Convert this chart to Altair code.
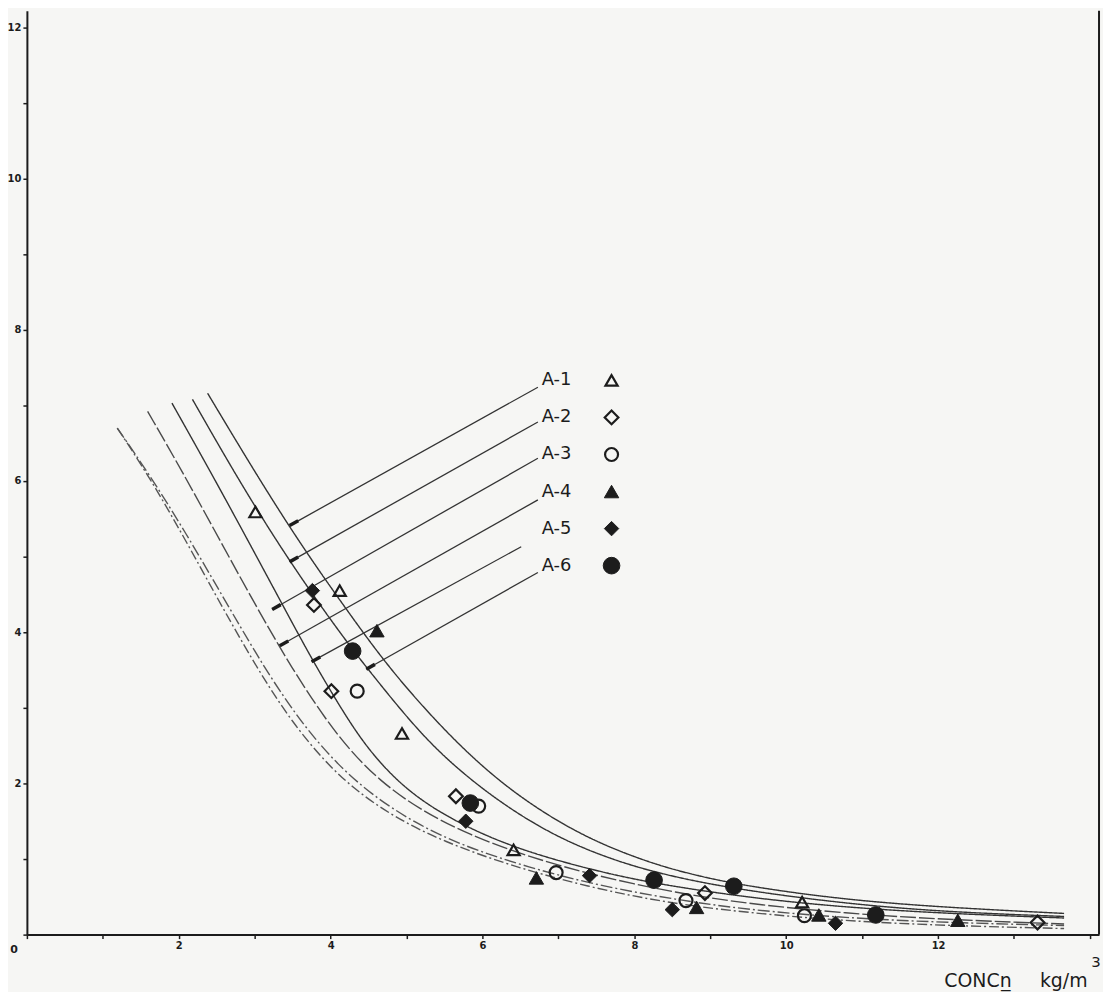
import altair as alt
import pandas as pd

# ---------------- data ----------------
SERIES = ["A-1", "A-2", "A-3", "A-4", "A-5", "A-6"]

A1_X = [3.01, 4.12, 4.94, 6.41, 10.21]
A1_Y = [5.59, 4.55, 2.66, 1.12, 0.43]
A2_X = [3.78, 4.01, 5.65, 8.93, 13.31]
A2_Y = [4.36, 3.22, 1.83, 0.55, 0.16]
A3_X = [4.35, 5.95, 6.97, 8.68, 10.24]
A3_Y = [3.22, 1.70, 0.82, 0.45, 0.25]
A4_X = [4.61, 6.71, 8.82, 10.43, 12.26]
A4_Y = [4.02, 0.75, 0.36, 0.26, 0.19]
A5_X = [3.76, 5.78, 7.41, 8.50, 10.65]
A5_Y = [4.55, 1.50, 0.78, 0.33, 0.15]
A6_X = [4.29, 5.84, 8.26, 9.31, 11.18]
A6_Y = [3.75, 1.74, 0.72, 0.64, 0.26]

# fitted curves
C1_X = [2.38, 2.97, 3.59, 4.25, 4.81, 5.56, 6.21, 6.86, 7.52, 8.26, 8.82, 9.48, 10.78, 12.09, 13.66]
C1_Y = [7.16, 6.17, 5.18, 4.24, 3.47, 2.63, 2.03, 1.57, 1.21, 0.93, 0.78, 0.64, 0.46, 0.36, 0.28]
C2_X = [2.18, 2.68, 3.20, 3.73, 4.25, 4.54, 5.16, 5.69, 6.30, 6.99, 7.78, 8.56, 9.48, 10.78, 12.09, 13.66]
C2_Y = [7.08, 6.20, 5.34, 4.54, 3.82, 3.45, 2.68, 2.17, 1.70, 1.28, 0.96, 0.75, 0.58, 0.41, 0.30, 0.24]
C3_X = [1.91, 2.42, 2.94, 3.40, 3.76, 4.12, 4.44, 4.84, 5.29, 5.91, 6.60, 7.39, 8.17, 9.48, 10.78, 12.09, 13.66]
C3_Y = [7.03, 6.12, 5.16, 4.30, 3.63, 3.02, 2.52, 2.06, 1.70, 1.36, 1.09, 0.87, 0.69, 0.49, 0.36, 0.28, 0.22]
C4_X = [1.59, 2.05, 2.55, 3.01, 3.33, 3.59, 3.92, 4.25, 4.64, 5.16, 5.82, 6.60, 7.52, 8.56, 9.48, 10.78, 12.09, 13.66]
C4_Y = [6.92, 6.12, 5.20, 4.36, 3.80, 3.37, 2.87, 2.44, 2.04, 1.66, 1.32, 1.03, 0.77, 0.55, 0.41, 0.28, 0.20, 0.14]
C5_X = [1.19, 1.59, 2.09, 2.58, 3.05, 3.37, 3.70, 4.09, 4.54, 5.10, 5.75, 6.60, 7.52, 8.56, 9.48, 10.78, 12.09, 13.66]
C5_Y = [6.70, 6.12, 5.32, 4.47, 3.66, 3.16, 2.70, 2.25, 1.85, 1.48, 1.17, 0.89, 0.65, 0.46, 0.33, 0.22, 0.16, 0.12]
C6_X = [1.19, 1.59, 2.05, 2.48, 2.89, 3.18, 3.49, 3.86, 4.27, 4.84, 5.49, 6.34, 7.39, 8.43, 9.48, 10.78, 12.09, 13.66]
C6_Y = [6.70, 6.09, 5.29, 4.50, 3.77, 3.29, 2.82, 2.36, 1.95, 1.55, 1.23, 0.92, 0.63, 0.42, 0.29, 0.18, 0.12, 0.08]

# leader lines from the labels to the curves
PTR_X1 = [6.73, 6.73, 6.73, 6.73, 6.51, 6.73]
PTR_Y1 = [7.24, 6.78, 6.30, 5.75, 5.13, 4.79]
PTR_X2 = [3.46, 3.46, 3.23, 3.33, 3.75, 4.47]
PTR_Y2 = [5.41, 4.93, 4.30, 3.82, 3.61, 3.51]

X_TICKS = list(range(0, 15))
Y_TICKS = list(range(0, 13))
X_MAX = 14.12
Y_MAX = 12.22

X_TITLE = "CONCn\u0332\u2002\u2002\u2002kg/m"
X_TITLE_SUP = "3"

# ---------------- styling ----------------
INK = "#1c1c1c"
LINE = "#333333"
FONT = "DejaVu Sans"
PLOT_W = 1078
PLOT_H = 929

STYLE = {
    "A-1": dict(shape="triangle-up", filled=False, size=150),
    "A-2": dict(shape="diamond", filled=False, size=190),
    "A-3": dict(shape="circle", filled=False, size=170),
    "A-4": dict(shape="triangle-up", filled=True, size=210),
    "A-5": dict(shape="diamond", filled=True, size=210),
    "A-6": dict(shape="circle", filled=True, size=280),
}
LEG_TEXT_X = 6.78
LEG_SYM_X = 7.70
LEG_Y0 = 7.33
LEG_STEP = 0.49

xs = alt.Scale(domain=[0, X_MAX], nice=False, zero=False)
ys = alt.Scale(domain=[0, Y_MAX], nice=False, zero=False)

pts = {
    "A-1": (A1_X, A1_Y), "A-2": (A2_X, A2_Y), "A-3": (A3_X, A3_Y),
    "A-4": (A4_X, A4_Y), "A-5": (A5_X, A5_Y), "A-6": (A6_X, A6_Y),
}
curves = [(C1_X, C1_Y), (C2_X, C2_Y), (C3_X, C3_Y), (C4_X, C4_Y), (C5_X, C5_Y), (C6_X, C6_Y)]

rows = []
for i, (cx, cy) in enumerate(curves):
    for a, b in zip(cx, cy):
        rows.append({"curve": f"c{i+1}", "x": a, "y": b})
curve_df = pd.DataFrame(rows)

x_axis = alt.Axis(
    values=X_TICKS, title=X_TITLE, format="d",
    labelExpr="datum.value > 0 && datum.value <= 12 && datum.value % 2 == 0 ? datum.label : ''",
    titleAnchor="end", titleAlign="right", titleBaseline="top", titleX=1066, titleY=37,
    titleFontSize=19, titleFont=FONT, titleFontWeight="normal", titleColor=INK,
)
y_axis = alt.Axis(
    values=Y_TICKS, title=None, format="d",
    labelExpr="datum.value > 0 && datum.value % 2 == 0 ? datum.label : ''",
)

curve_layer = alt.Chart(curve_df).mark_line(
    interpolate="basis", strokeWidth=1.4
).encode(
    x=alt.X("x:Q", scale=xs, axis=x_axis),
    y=alt.Y("y:Q", scale=ys, axis=y_axis),
    detail="curve:N",
    color=alt.Color(
        "curve:N",
        scale=alt.Scale(domain=["c1", "c2", "c3", "c4", "c5", "c6"],
                        range=[LINE, LINE, LINE, "#4a4a4a", "#555555", "#555555"]),
        legend=None,
    ),
    strokeDash=alt.StrokeDash(
        "curve:N",
        scale=alt.Scale(domain=["c1", "c2", "c3", "c4", "c5", "c6"],
                        range=[[1, 0], [1, 0], [1, 0], [16, 3], [12, 3, 2, 3], [10, 3, 2, 3]]),
        legend=None,
    ),
)

ptr_df = pd.DataFrame({"x1": PTR_X1, "y1": PTR_Y1, "x2": PTR_X2, "y2": PTR_Y2})
ptr_layer = alt.Chart(ptr_df).mark_rule(strokeWidth=1.3, color=LINE).encode(
    x=alt.X("x1:Q", scale=xs), y=alt.Y("y1:Q", scale=ys), x2="x2:Q", y2="y2:Q"
)
# short thick end marks of the leaders
ptr_end = alt.Chart(ptr_df).transform_calculate(
    dx="datum.x1 - datum.x2", dy="datum.y1 - datum.y2"
).transform_calculate(
    len="sqrt(datum.dx*datum.dx + datum.dy*datum.dy)"
).transform_calculate(
    xe="datum.x2 + 0.13*datum.dx/datum.len", ye="datum.y2 + 0.13*datum.dy/datum.len"
).mark_rule(strokeWidth=3.5, color=INK).encode(
    x=alt.X("x2:Q", scale=xs), y=alt.Y("y2:Q", scale=ys), x2="xe:Q", y2="ye:Q"
)

layers = [curve_layer, ptr_layer, ptr_end]

leg_rows = []
for i, s in enumerate(SERIES):
    leg_rows.append({"label": s, "x": LEG_TEXT_X, "xs": LEG_SYM_X, "y": LEG_Y0 - i * LEG_STEP})
leg_df = pd.DataFrame(leg_rows)

for i, s in enumerate(SERIES):
    st = STYLE[s]
    dx, dy = pts[s]
    df = pd.DataFrame({"x": dx, "y": dy})
    mk = dict(shape=st["shape"], size=st["size"], filled=st["filled"], opacity=1)
    if st["filled"]:
        mk.update(fill=INK, stroke=INK, strokeWidth=1)
    else:
        mk.update(stroke=INK, strokeWidth=2.2)
    layers.append(alt.Chart(df).mark_point(**mk).encode(
        x=alt.X("x:Q", scale=xs), y=alt.Y("y:Q", scale=ys)))
    layers.append(alt.Chart(leg_df[leg_df.label == s]).mark_point(**mk).encode(
        x=alt.X("xs:Q", scale=xs), y=alt.Y("y:Q", scale=ys)))

leg_text = alt.Chart(leg_df).mark_text(
    align="left", baseline="middle", font=FONT, fontSize=18, color=INK
).encode(x=alt.X("x:Q", scale=xs), y=alt.Y("y:Q", scale=ys), text="label:N")
layers.append(leg_text)

# corner "0" label and superscript of the unit
corner = alt.Chart(pd.DataFrame({"x": [0], "y": [0], "t": ["0"]})).mark_text(
    font=FONT, fontSize=11, fontWeight="bold", color=INK, dx=-13, dy=15
).encode(x=alt.X("x:Q", scale=xs), y=alt.Y("y:Q", scale=ys), text="t:N")
sup = alt.Chart(pd.DataFrame({"x": [X_MAX], "y": [0], "t": [X_TITLE_SUP]})).mark_text(
    font=FONT, fontSize=15, color=INK, dx=-3, dy=28
).encode(x=alt.X("x:Q", scale=xs), y=alt.Y("y:Q", scale=ys), text="t:N")
frame = alt.Chart(pd.DataFrame({"x": [X_MAX], "y": [0], "y2": [Y_MAX]})).mark_rule(
    color=INK, strokeWidth=2
).encode(x=alt.X("x:Q", scale=xs), y=alt.Y("y:Q", scale=ys), y2="y2:Q")
layers += [corner, sup, frame]

chart = alt.layer(*layers).properties(
    width=PLOT_W, height=PLOT_H,
    autosize=alt.AutoSizeParams(type="none"),
    padding={"left": 19, "top": 0, "right": 4, "bottom": 55},
    background="#f6f6f4",
).configure_view(stroke=None).configure_axis(
    grid=False, domainColor=INK, domainWidth=2, tickColor=INK, tickSize=4, tickWidth=1.5,
    labelFont=FONT, labelFontSize=10, labelFontWeight="bold", labelColor=INK, labelPadding=2,
)

chart.save("out.html", embed_options={"renderer": "svg", "actions": False})
